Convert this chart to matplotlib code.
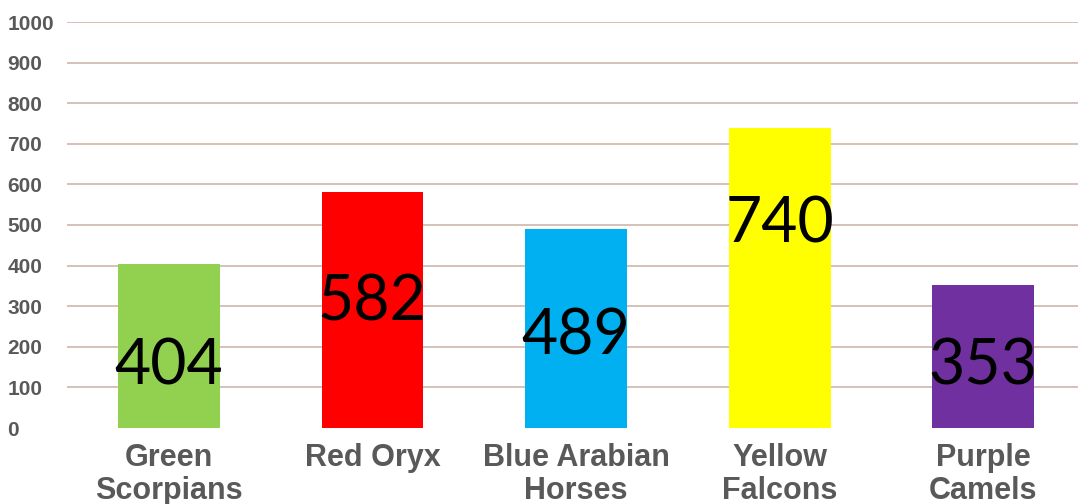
import matplotlib.pyplot as plt

# Datos del gráfico
teams = ['Green\nScorpians', 'Red Oryx', 'Blue Arabian\nHorses', 'Yellow\nFalcons', 'Purple\nCamels']
points = [404, 582, 489, 740, 353]
colors = ['#92d050', '#ff0000', '#00b0f0', '#ffff00', '#7030a0']
yticks = [0, 100, 200, 300, 400, 500, 600, 700, 800, 900, 1000]

# línea base (en unidades del eje) de los números grandes
label_base = [106, 266, 180, 456, 106]

W, H = 1078, 504
fig = plt.figure(figsize=(W / 100, H / 100), dpi=100)
ax = fig.add_axes([67 / W, 76 / H, 1018 / W, 406 / H])

x = range(len(teams))
ax.bar(x, points, width=0.5, color=colors, zorder=2)

for xi, yi, v in zip(x, label_base, points):
    ax.text(xi, yi, str(v), ha='center', va='baseline', fontsize=45,
            family='Lato', color='black', zorder=3)

ax.set_xlim(-0.5, 4.5)
ax.set_ylim(0, 1000)
ax.set_yticks(yticks)
ax.set_xticks(list(x))
ax.set_xticklabels(teams, fontsize=22, fontweight='bold', color='#595959',
                   family='Liberation Sans', linespacing=1.12)
ax.set_yticklabels([str(t) for t in yticks], fontsize=15, fontweight='bold',
                   color='#595959', family='Liberation Sans', ha='left')
ax.tick_params(axis='y', length=0, pad=43)
ax.tick_params(axis='x', length=0, pad=11)

ax.grid(axis='y', color='#cdb8ad', linewidth=1.2, zorder=0)
ax.set_axisbelow(True)
ax.yaxis.get_gridlines()[0].set_visible(False)
for s in ax.spines.values():
    s.set_visible(False)

fig.savefig('out.png', dpi=100)
